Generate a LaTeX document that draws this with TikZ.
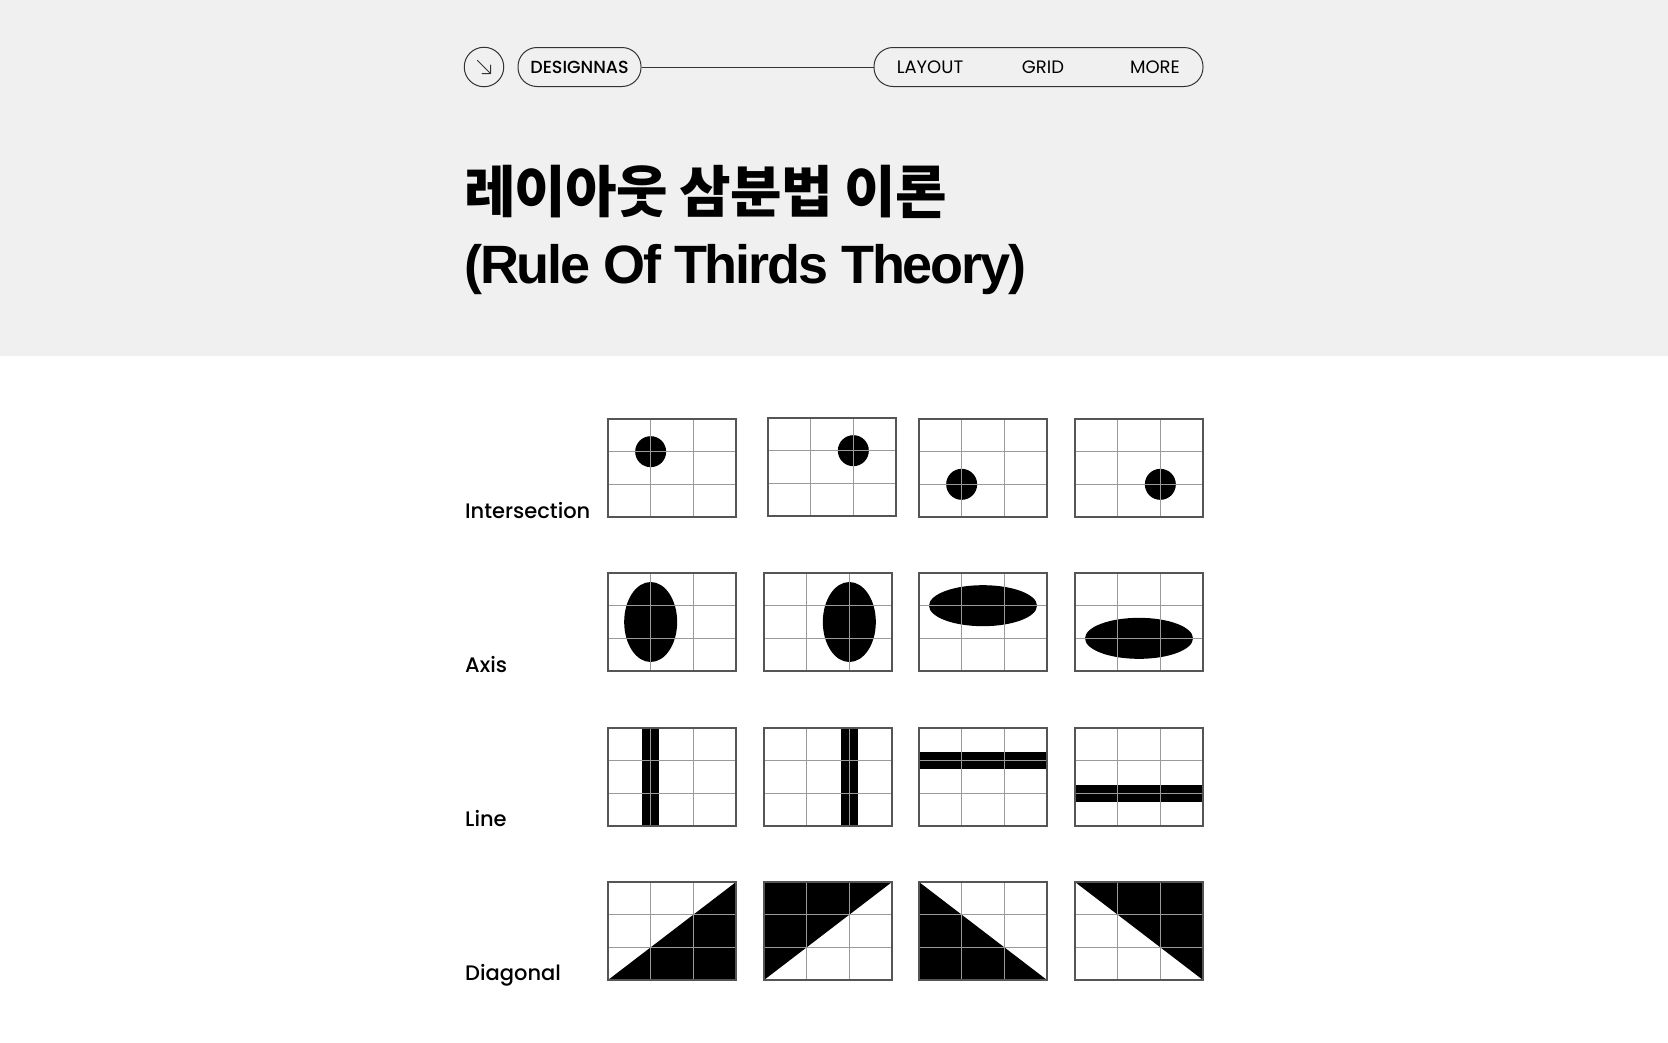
\documentclass[tikz,border=0pt]{standalone}
\usepackage{fontspec}
\setmainfont{Poppins}
\newfontfamily\medfont{Poppins Medium}
\newfontfamily\kofont{Noto Sans CJK KR}[LetterSpace=-1.5]
\newfontfamily\titlefont{Liberation Sans}[LetterSpace=-4]
\usetikzlibrary{positioning}

\definecolor{headbg}{HTML}{F0F0F0}
\definecolor{inkline}{HTML}{333333}
\definecolor{gridgray}{HTML}{9A9A9A}
\definecolor{framegray}{HTML}{555555}

\tikzset{
  pill/.style={draw=inkline, line width=1pt, rounded corners=19pt, minimum height=39pt, inner sep=0pt, font=\fontsize{18}{20}\selectfont},
  menuitem/.style={inner sep=0pt, font=\fontsize{18}{20}\selectfont},
  rowlabel/.style={anchor=base west, inner sep=0pt, font=\medfont\fontsize{21}{24}\selectfont},
  gridline/.style={draw=gridgray, line width=0.8pt},
  frameline/.style={draw=framegray, line width=1.3pt},
}

% grid of thirds for one frame (128 x 98)
\newcommand{\thirdsframe}{%
  \draw[gridline] (42.67,0) -- (42.67,98) (85.33,0) -- (85.33,98)
    (0,32.67) -- (128,32.67) (0,65.33) -- (128,65.33);
  \draw[frameline] (0,0) rectangle (128,98);}

\begin{document}
\begin{tikzpicture}[x=1pt, y=-1pt]
\useasboundingbox (0,0) rectangle (1668,1042);
\fill[white] (0,0) rectangle (1668,1042);
\fill[headbg] (0,0) rectangle (1668,356);

% header bar
\node[draw=inkline, line width=1pt, circle, minimum size=39.5pt, inner sep=0pt] (icon) at (484,67) {};
\draw[inkline, line width=1pt, line cap=round, line join=round]
  ([shift={(-6.5,-6.5)}]icon.center) -- ([shift={(6.5,6.5)}]icon.center)
  ([shift={(6.5,-2)}]icon.center) -- ([shift={(6.5,6.5)}]icon.center) -- ([shift={(-2,6.5)}]icon.center);
\node[pill, minimum width=123pt, font=\medfont\fontsize{17.5}{20}\selectfont] (brand) at (579.5,67) {DESIGNNAS};
\node[pill, minimum width=329pt] (menu) at (1038.5,67) {};
\draw[inkline, line width=1pt] (brand) -- (menu);
\node[menuitem] (layout) at (930,67) {LAYOUT};
\node[menuitem] (grid) at (1043,67) {GRID};
\node[menuitem] (more) at (1155,67) {MORE};

% title
\node[anchor=base west, inner sep=0pt, font=\kofont\bfseries\fontsize{56}{60}\selectfont] (title) at (464,212) {레이아웃 삼분법 이론};
\node[anchor=base west, inner sep=0pt, font=\titlefont\bfseries\fontsize{54}{56}\selectfont] (subtitle) at (464,283) {(Rule Of Thirds Theory)};

% row labels
\node[rowlabel] (intersection) at (465,518) {Intersection};
\node[rowlabel] (axis) at (465,672) {Axis};
\node[rowlabel] (line) at (465,826) {Line};
\node[rowlabel] (diagonal) at (465,980) {Diagonal};

% intersection
\begin{scope}[shift={(608,419)}]
  \fill (42.67,32.67) circle (15.5);
  \thirdsframe
\end{scope}
\begin{scope}[shift={(768,418)}]
  \fill (85.33,32.67) circle (15.5);
  \thirdsframe
\end{scope}
\begin{scope}[shift={(919,419)}]
  \fill (42.67,65.33) circle (15.5);
  \thirdsframe
\end{scope}
\begin{scope}[shift={(1075,419)}]
  \fill (85.33,65.33) circle (15.5);
  \thirdsframe
\end{scope}

% axis
\begin{scope}[shift={(608,573)}]
  \fill (42.67,49) ellipse [x radius=26.5, y radius=40];
  \thirdsframe
\end{scope}
\begin{scope}[shift={(764,573)}]
  \fill (85.33,49) ellipse [x radius=26.5, y radius=40];
  \thirdsframe
\end{scope}
\begin{scope}[shift={(919,573)}]
  \fill (64,32.67) ellipse [x radius=54, y radius=20.5];
  \thirdsframe
\end{scope}
\begin{scope}[shift={(1075,573)}]
  \fill (64,65.33) ellipse [x radius=54, y radius=20.5];
  \thirdsframe
\end{scope}

% line
\begin{scope}[shift={(608,728)}]
  \fill (34.17,0) rectangle (51.17,98);
  \thirdsframe
\end{scope}
\begin{scope}[shift={(764,728)}]
  \fill (76.83,0) rectangle (93.83,98);
  \thirdsframe
\end{scope}
\begin{scope}[shift={(919,728)}]
  \fill (0,24.17) rectangle (128,41.17);
  \thirdsframe
\end{scope}
\begin{scope}[shift={(1075,728)}]
  \fill (0,56.83) rectangle (128,73.83);
  \thirdsframe
\end{scope}

% diagonal
\begin{scope}[shift={(608,882)}]
  \fill (0,98) -- (128,0) -- (128,98) -- cycle;
  \thirdsframe
\end{scope}
\begin{scope}[shift={(764,882)}]
  \fill (0,98) -- (0,0) -- (128,0) -- cycle;
  \thirdsframe
\end{scope}
\begin{scope}[shift={(919,882)}]
  \fill (0,0) -- (0,98) -- (128,98) -- cycle;
  \thirdsframe
\end{scope}
\begin{scope}[shift={(1075,882)}]
  \fill (0,0) -- (128,0) -- (128,98) -- cycle;
  \thirdsframe
\end{scope}
\end{tikzpicture}
\end{document}
